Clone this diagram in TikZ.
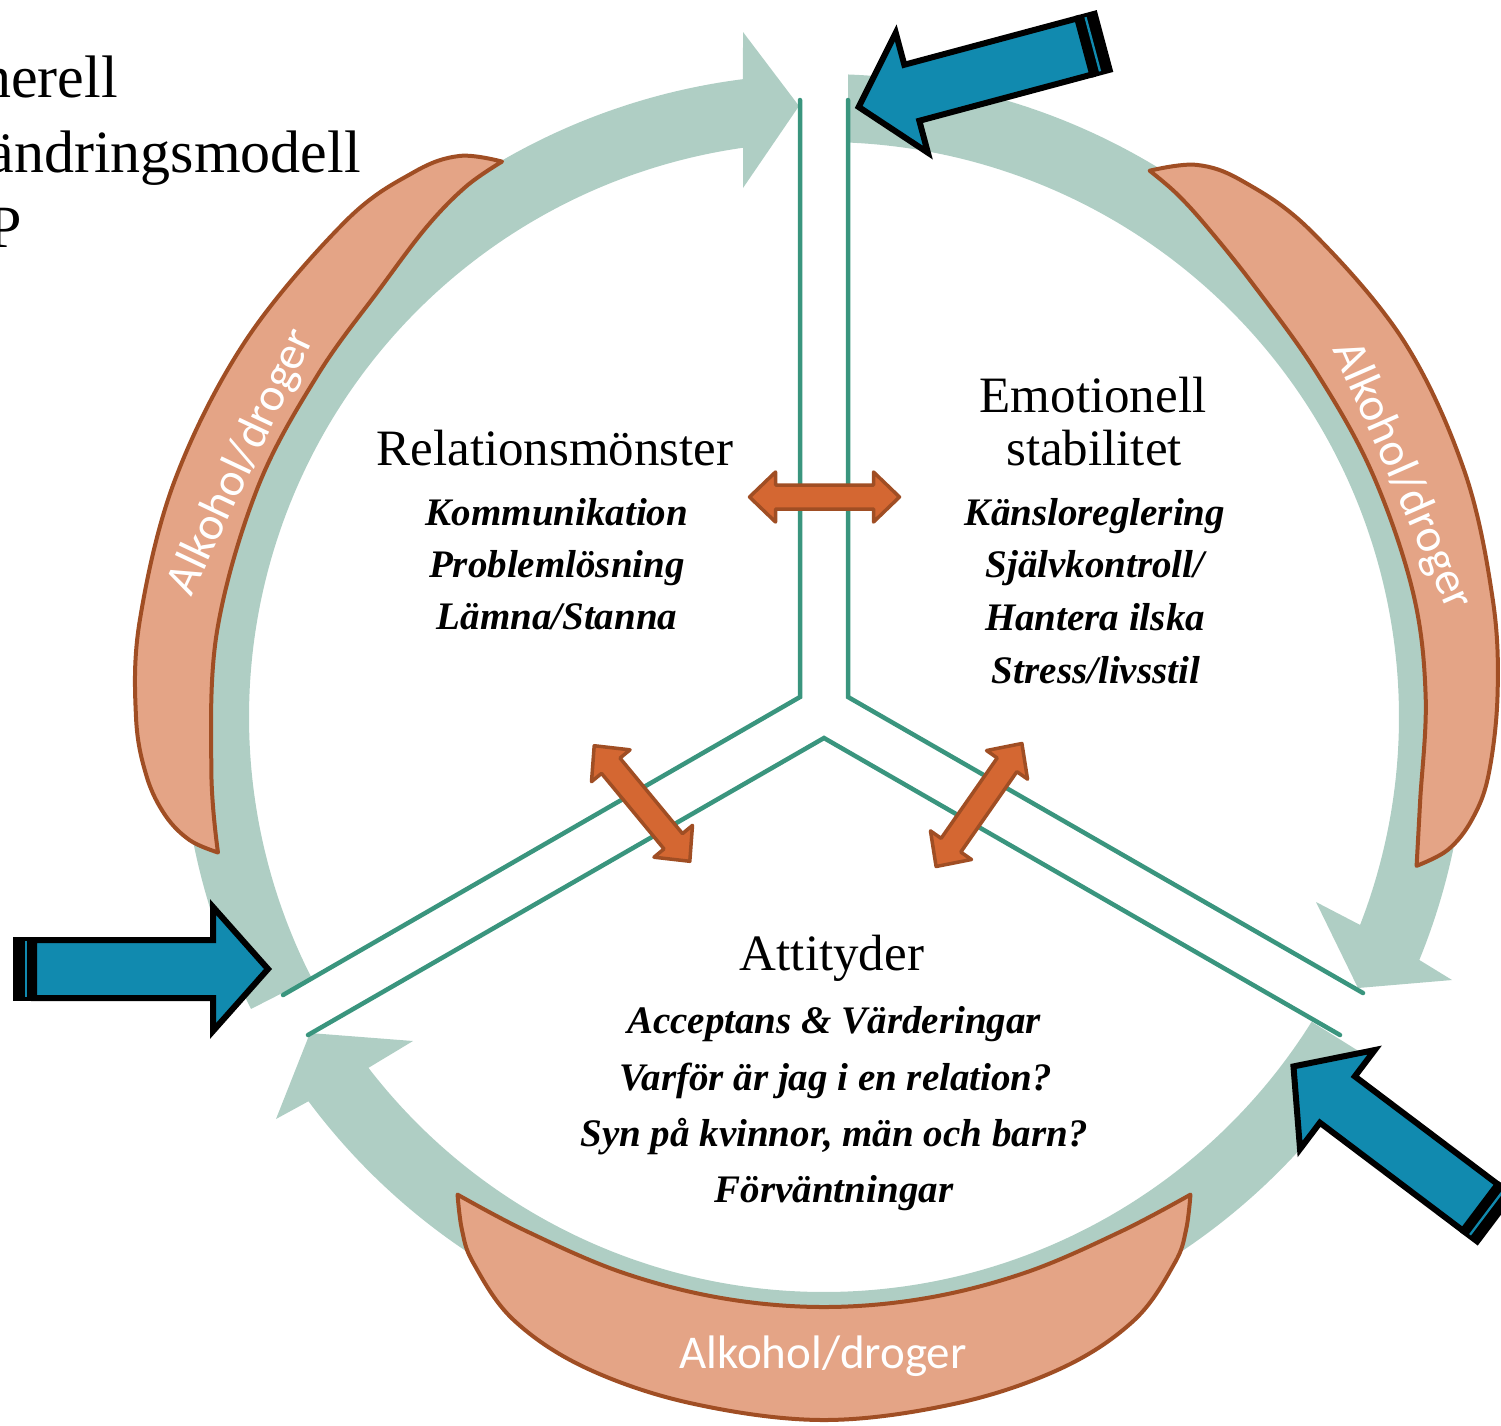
\documentclass[tikz,border=0pt]{standalone}
\usepackage{fontspec}
\setmainfont{Liberation Serif}
\newfontfamily\calibfont{Carlito}
\definecolor{bandgreen}{RGB}{175,206,196}
\definecolor{tealline}{RGB}{58,149,126}
\definecolor{cresfill}{RGB}{228,164,134}
\definecolor{cresdraw}{RGB}{160,78,36}
\definecolor{dafill}{RGB}{212,103,50}
\definecolor{bluearrow}{RGB}{17,138,175}
\begin{document}
\begin{tikzpicture}[x=1pt,y=1pt,
  band/.style={fill=bandgreen},
  crescent/.style={fill=cresfill, draw=cresdraw, line width=4pt, line join=round},
  tline/.style={draw=tealline, line width=4.5pt, line cap=round, line join=miter},
  hdr/.style={inner sep=0pt, font=\fontsize{51}{60}\selectfont},
  sub/.style={inner sep=0pt, font=\fontsize{39}{46}\selectfont\bfseries\itshape},
  titletext/.style={inner sep=0pt, font=\fontsize{60}{70}\selectfont},
  alk/.style={inner sep=0pt, text=white, font=\calibfont\fontsize{47}{56}\selectfont},
  dblarr/.pic={
    \filldraw[fill=dafill, draw=cresdraw, line width=3.5pt, line join=round]
      (-75,0) -- (-49,25) -- (-49,12) -- (49,12) -- (49,25) -- (75,0)
      -- (49,-25) -- (49,-12) -- (-49,-12) -- (-49,-25) -- cycle;
  },
  bluearr/.pic={
    \fill[black] (0,-32) rectangle (22,32);
    \fill[bluearrow] (11.5,-28) rectangle (13.8,28);
    \filldraw[fill=bluearrow, draw=black, line width=6pt, miter limit=10]
      (21,-29) -- (200,-29) -- (200,-62) -- (255,0) -- (200,62) -- (200,29) -- (21,29) -- cycle;
  }
]
\useasboundingbox (0,0) rectangle (1501,-1425);
\clip (0,0) rectangle (1501,-1425);

\begin{scope}[shift={(824,-717)}]
  % ---------- green circular arrows ----------
  \fill[band] (207:643) arc[start angle=207, end angle=97.24, radius=643]
    -- (-81,685) -- (-25,611) -- (-81,529)
    -- (98.1:575) arc[start angle=98.1, end angle=207, radius=575] -- cycle;
  \fill[band] (87.86:643) arc[start angle=87.86, end angle=-22.2, radius=643]
    -- (628,-263) -- (534,-271) -- (492,-185)
    -- (-21.2:575) arc[start angle=-21.2, end angle=87.6, radius=575] -- cycle;
  \fill[band] (328:643) arc[start angle=328, end angle=216.7, radius=643]
    -- (-548,-402) -- (-514,-316) -- (-411,-324)
    -- (217.6:575) arc[start angle=217.6, end angle=328, radius=575] -- cycle;

  % ---------- crescents ----------
  \filldraw[crescent]
    plot[smooth, tension=0.6] coordinates {(120.1:642) (123:669) (127:682) (134:689) (147:690) (160:691) (172:691) (180:688) (185:680) (188.5:666) (191:646) (192.6:621)}
    -- plot[smooth, tension=0.6] coordinates {(192.6:621) (185:615) (172:613) (158:611) (146:611) (136:617) (129:631) (124:640) (120.1:642)}
    -- cycle;
  \filldraw[crescent]
    plot[smooth, tension=0.6] coordinates {(59.2:636) (56:666) (52:680) (45:688) (33:691) (21:686) (10:679) (2:674) (-5:667) (-9:656) (-12:638) (-14.1:611)}
    -- plot[smooth, tension=0.6] coordinates {(-14.1:611) (-8:602) (2:602) (12:602) (24:600) (35:601) (45:609) (52:622) (56:631) (59.2:636)}
    -- cycle;
  \filldraw[crescent]
    plot[smooth, tension=0.6] coordinates {(232.5:602) (234.8:628) (237.3:649) (242.7:678) (249.8:693) (259:699) (270:703) (281:699) (290.2:693) (297.3:678) (302.7:649) (305.2:628) (307.5:602)}
    -- plot[smooth, tension=0.6] coordinates {(307.5:602) (300:594) (290:591) (280:590) (270:590) (260:590) (250:591) (240:594) (232.5:602)}
    -- cycle;
\end{scope}

\node[alk, rotate=64.7] (alkL) at (242,-462) {Alkohol/droger};
\node[alk, rotate=-66.3] (alkR) at (1402,-476) {Alkohol/droger};
\node[alk, anchor=base] (alkB) at (823,-1368) {Alkohol/droger};

% ---------- teal separator lines ----------
\coordinate (l1a) at (800,-100); \coordinate (l1b) at (800,-697); \coordinate (l1c) at (283,-995);
\coordinate (l2a) at (848,-100); \coordinate (l2b) at (848,-697); \coordinate (l2c) at (1363,-993);
\coordinate (l3a) at (308,-1035); \coordinate (l3b) at (824,-738); \coordinate (l3c) at (1340,-1035);
\draw[tline] (l1a) -- (l1b) -- (l1c);
\draw[tline] (l2a) -- (l2b) -- (l2c);
\draw[tline] (l3a) -- (l3b) -- (l3c);

% ---------- orange double arrows ----------
\pic at (824.5,-497) {dblarr};
\pic[rotate=-50.4] at (642,-803.5) {dblarr};
\pic[rotate=55.1] at (979,-805) {dblarr};

% ---------- texts ----------
\node[titletext, anchor=base east] (t1) at (118,-97) {nerell};
\node[titletext, anchor=base east] (t2) at (361,-172) {ändringsmodell};
\node[titletext, anchor=base east] (t3) at (22,-247) {P};

\node[hdr, anchor=base] (rel) at (555,-465) {Relationsmönster};
\node[sub, anchor=base] (kom) at (557,-525) {Kommunikation};
\node[sub, anchor=base] (pro) at (557,-577) {Problemlösning};
\node[sub, anchor=base] (lam) at (557,-629) {Lämna/Stanna};

\node[hdr, anchor=base] (emo) at (1093,-412) {Emotionell};
\node[hdr, anchor=base] (sta) at (1094,-465) {stabilitet};
\node[sub, anchor=base] (kan) at (1095,-525) {Känsloreglering};
\node[sub, anchor=base] (sja) at (1095,-577) {Självkontroll/};
\node[sub, anchor=base] (han) at (1095,-630) {Hantera ilska};
\node[sub, anchor=base] (str) at (1096,-683) {Stress/livsstil};

\node[hdr, anchor=base] (att) at (832,-970) {Attityder};
\node[sub, anchor=base] (acc) at (834,-1033) {Acceptans \& Värderingar};
\node[sub, anchor=base] (var) at (836,-1090) {Varför är jag i en relation?};
\node[sub, anchor=base] (syn) at (834,-1146) {Syn på kvinnor, män och barn?};
\node[sub, anchor=base] (forv) at (834,-1202) {Förväntningar};

% ---------- blue block arrows ----------
\pic at (13,-969) {bluearr};
\pic[rotate=195] at (1105,-41) {bluearr};
\pic[rotate=142.96] at (1497,-1220) {bluearr};
\end{tikzpicture}
\end{document}
